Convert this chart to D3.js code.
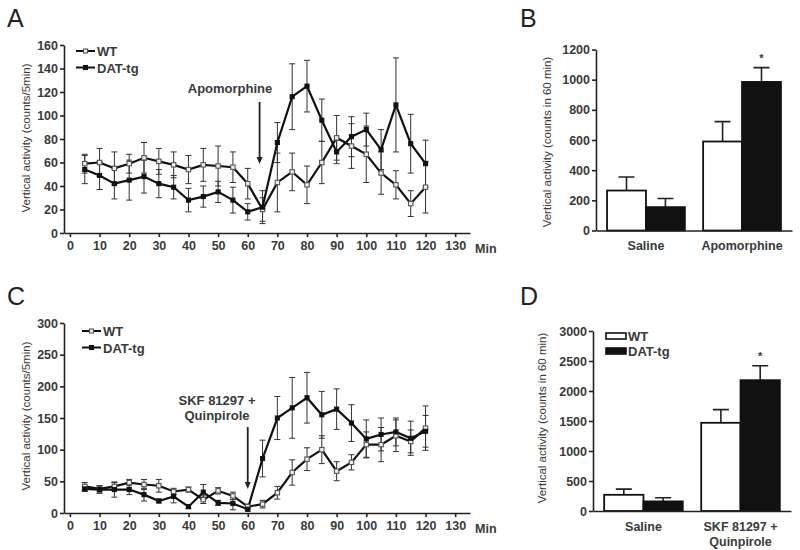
<!DOCTYPE html>
<html>
<head>
<meta charset="utf-8" />
<title>Vertical activity</title>
<script src="https://d3js.org/d3.v7.min.js"></script>
<style>
  body { margin: 0; background: #fff; }
  text { font-family: "Liberation Sans", Arial, sans-serif; }
  .tick text { font-size: 12.5px; font-weight: bold; fill: #3a3a3a; }
  .domain, .tick line { stroke: #222; stroke-width: 1.6px; }
</style>
</head>
<body>
<script>
// time course, minutes
var minutes = [5,10,15,20,25,30,35,40,45,50,55,60,65,70,75,80,85,90,95,100,105,110,115,120];
var xTicks = [0,10,20,30,40,50,60,70,80,90,100,110,120,130];

// panel A: apomorphine
var aWT     = [59,60,55,59,64,61,58,54,58,57,56,42,20,43,52,41,60,81,74,67,51,41,25,39];
var aWTErr  = [8,12,14,8,13,11,11,12,14,17,13,13,10,25,16,16,18,19,19,24,18,12,11,22];
var aDAT    = [54,49,42,45,48,42,39,28,31,35,28,18,22,77,116,125,96,69,82,88,71,109,76,59];
var aDATErr = [12,12,13,17,14,12,10,10,9,9,11,7,14,17,28,22,18,10,17,14,17,40,25,20];

// panel C: SKF 81297 + quinpirole
var cWT     = [42,38,42,48,45,43,34,37,21,35,27,10,14,32,64,85,100,66,80,108,108,122,113,134];
var cWTErr  = [6,5,6,5,8,10,5,4,6,5,6,4,6,10,20,18,22,15,12,20,27,25,18,35];
var cDAT    = [38,37,37,37,29,19,26,10,33,16,15,6,86,150,166,182,155,164,142,117,124,128,118,129];
var cDATErr = [4,6,12,8,10,3,10,3,12,4,10,3,29,34,48,40,37,32,29,30,26,22,27,25];

// panel B and D: counts in 60 min
var bCats    = ["Saline", "Apomorphine"];
var bWT      = [265, 590];
var bWTErr   = [90, 132];
var bDAT     = [155, 985];
var bDATErr  = [57, 95];

var dCats    = ["Saline", "SKF 81297 +|Quinpirole"];
var dWT      = [270, 1470];
var dWTErr   = [95, 220];
var dDAT     = [160, 2180];
var dDATErr  = [60, 240];

var svg = d3.select("body").append("svg")
    .attr("width", 800)
    .attr("height", 550);

function letter(x, y, t) {
  svg.append("text").attr("x", x).attr("y", y)
    .attr("font-size", 25).attr("fill", "#222").text(t);
}

function yTitle(x, y, t) {
  svg.append("text")
    .attr("transform", "translate(" + x + "," + y + ") rotate(-90)")
    .attr("text-anchor", "middle")
    .attr("font-size", 11.5)
    .attr("fill", "#3a3a3a")
    .text(t);
}

function arrow(x, y1, y2) {
  svg.append("line").attr("x1", x).attr("x2", x).attr("y1", y1).attr("y2", y2 - 5)
    .attr("stroke", "#222").attr("stroke-width", 1.8);
  svg.append("path")
    .attr("d", "M" + (x - 3) + "," + (y2 - 7) + "L" + (x + 3) + "," + (y2 - 7) + "L" + x + "," + y2 + "Z")
    .attr("fill", "#222");
}

function timeCourse(o) {
  var x = d3.scaleLinear().domain([-2, 135]).range([64, 470]);
  var y = d3.scaleLinear().domain([0, o.max]).range([o.bottom, o.top]);

  var g = svg.append("g");
  g.append("g").attr("transform", "translate(0," + o.bottom + ")")
    .call(d3.axisBottom(x).tickValues(xTicks).tickSize(4).tickPadding(4).tickSizeOuter(0));
  g.append("g").attr("transform", "translate(64,0)")
    .call(d3.axisLeft(y).ticks(o.max / o.step).tickFormat(d3.format("d")).tickSize(4).tickPadding(2).tickSizeOuter(0));

  g.append("text").attr("x", 475).attr("y", o.bottom + 20)
    .attr("font-size", 12.5).attr("font-weight", "bold").attr("fill", "#3a3a3a").text("Min");

  var series = [
    { v: o.wt, e: o.wtErr, open: true },
    { v: o.dat, e: o.datErr, open: false }
  ];

  series.forEach(function(s) {
    var pts = minutes.map(function(m, i) { return { m: m, v: s.v[i], e: s.e[i] }; });
    var eb = g.append("g").selectAll("g").data(pts).enter().append("g")
      .attr("stroke", "#333").attr("stroke-width", 1);
    eb.append("line")
      .attr("x1", function(d) { return x(d.m); }).attr("x2", function(d) { return x(d.m); })
      .attr("y1", function(d) { return y(d.v - d.e); }).attr("y2", function(d) { return y(d.v + d.e); });
    eb.append("line")
      .attr("x1", function(d) { return x(d.m) - 3; }).attr("x2", function(d) { return x(d.m) + 3; })
      .attr("y1", function(d) { return y(d.v + d.e); }).attr("y2", function(d) { return y(d.v + d.e); });
    eb.append("line")
      .attr("x1", function(d) { return x(d.m) - 3; }).attr("x2", function(d) { return x(d.m) + 3; })
      .attr("y1", function(d) { return y(d.v - d.e); }).attr("y2", function(d) { return y(d.v - d.e); });
    s.pts = pts;
  });

  var line = d3.line().x(function(d) { return x(d.m); }).y(function(d) { return y(d.v); });

  series.forEach(function(s) {
    g.append("path").datum(s.pts)
      .attr("fill", "none").attr("stroke", "#111").attr("stroke-width", 2.2)
      .attr("d", line);
  });

  series.forEach(function(s) {
    var r = s.open ? 2.2 : 2;
    g.append("g").selectAll("rect").data(s.pts).enter().append("rect")
      .attr("x", function(d) { return x(d.m) - r; })
      .attr("y", function(d) { return y(d.v) - r; })
      .attr("width", 2 * r).attr("height", 2 * r)
      .attr("fill", s.open ? "#eee" : "#111")
      .attr("stroke", s.open ? "#555" : "#111")
      .attr("stroke-width", 1.1);
  });

  // legend
  var lg = g.append("g");
  [["WT", true], ["DAT-tg", false]].forEach(function(l, i) {
    var ly = o.legY + i * 16.5;
    lg.append("line").attr("x1", o.legX).attr("x2", o.legX + 19).attr("y1", ly).attr("y2", ly)
      .attr("stroke", "#111").attr("stroke-width", 2);
    lg.append("rect").attr("x", o.legX + 7.5).attr("y", ly - 2).attr("width", 4).attr("height", 4)
      .attr("fill", l[1] ? "#eee" : "#111").attr("stroke", l[1] ? "#555" : "#111").attr("stroke-width", 1.1);
    lg.append("text").attr("x", o.legX + 21).attr("y", ly + 5)
      .attr("font-size", 13).attr("font-weight", "bold").attr("fill", "#3a3a3a").text(l[0]);
  });

  arrow(x(o.arrowAt), o.arrowTop, o.arrowBottom);
  o.label.forEach(function(t, i) {
    g.append("text").attr("x", o.labelX).attr("y", o.labelY + i * 15)
      .attr("text-anchor", "middle").attr("font-size", 13).attr("font-weight", "bold")
      .attr("fill", "#3a3a3a").text(t);
  });
}

function barPanel(o) {
  var x = d3.scaleBand().domain(o.cats).range([o.left, o.right]).paddingInner(0.19).paddingOuter(0.115);
  var sub = d3.scaleBand().domain(["WT", "DAT"]).range([0, x.bandwidth()]);
  var y = d3.scaleLinear().domain([0, o.max]).range([o.bottom, o.top]);

  var g = svg.append("g");

  var rows = [];
  o.cats.forEach(function(c, i) {
    rows.push({ c: c, k: "WT", v: o.wt[i], e: o.wtErr[i] });
    rows.push({ c: c, k: "DAT", v: o.dat[i], e: o.datErr[i] });
  });

  g.selectAll(".err").data(rows).enter().append("path")
    .attr("fill", "none").attr("stroke", "#222").attr("stroke-width", 1.6)
    .attr("d", function(d) {
      var cx = x(d.c) + sub(d.k) + sub.bandwidth() / 2;
      return "M" + cx + "," + y(d.v) + "V" + y(d.v + d.e) + "M" + (cx - 8) + "," + y(d.v + d.e) + "H" + (cx + 8);
    });

  g.selectAll(".bar").data(rows).enter().append("rect")
    .attr("x", function(d) { return x(d.c) + sub(d.k); })
    .attr("y", function(d) { return y(d.v); })
    .attr("width", sub.bandwidth())
    .attr("height", function(d) { return o.bottom - y(d.v); })
    .attr("fill", function(d) { return d.k == "WT" ? "#fff" : "#111"; })
    .attr("stroke", "#111").attr("stroke-width", 1.8);

  g.append("g").attr("transform", "translate(" + o.left + ",0)")
    .call(d3.axisLeft(y).ticks(o.max / o.step).tickFormat(d3.format("d")).tickSize(4).tickPadding(2).tickSizeOuter(0));
  g.append("g").attr("transform", "translate(0," + o.bottom + ")")
    .call(d3.axisBottom(x).tickSize(0).tickPadding(11).tickSizeOuter(0));

  // split two-line category labels
  g.selectAll(".tick text").filter(function(d) { return typeof d == "string"; })
    .each(function(d) {
      var parts = d.split("|");
      var t = d3.select(this).text(null);
      parts.forEach(function(p, i) {
        t.append("tspan").attr("x", 0).attr("dy", i == 0 ? "0.71em" : "1.2em").text(p);
      });
    });

  // significance star on DAT-tg drug bar
  var last = rows[3];
  g.append("text")
    .attr("x", x(last.c) + sub("DAT") + sub.bandwidth() / 2)
    .attr("y", y(last.v + last.e) - 6)
    .attr("text-anchor", "middle").attr("font-size", 11).attr("font-weight", "bold")
    .attr("fill", "#333").text("*");

  if (o.legend) {
    [["WT", "#fff"], ["DAT-tg", "#111"]].forEach(function(l, i) {
      var ly = o.top + 2 + i * 15;
      g.append("rect").attr("x", o.left + 13).attr("y", ly).attr("width", 20).attr("height", 6)
        .attr("fill", l[1]).attr("stroke", "#111").attr("stroke-width", 1.6);
      g.append("text").attr("x", o.left + 35).attr("y", ly + 8)
        .attr("font-size", 13).attr("font-weight", "bold").attr("fill", "#3a3a3a").text(l[0]);
    });
  }
}

letter(7, 27, "A");
letter(520, 27, "B");
letter(7, 305, "C");
letter(520, 305, "D");

timeCourse({
  wt: aWT, wtErr: aWTErr, dat: aDAT, datErr: aDATErr,
  max: 160, step: 20, top: 45, bottom: 233,
  legX: 76, legY: 51,
  arrowAt: 64, arrowTop: 102, arrowBottom: 164,
  label: ["Apomorphine"], labelX: 230, labelY: 93
});
yTitle(30, 138, "Vertical activity (counts/5min)");

timeCourse({
  wt: cWT, wtErr: cWTErr, dat: cDAT, datErr: cDATErr,
  max: 300, step: 50, top: 323, bottom: 513,
  legX: 82, legY: 331,
  arrowAt: 60, arrowTop: 427, arrowBottom: 489,
  label: ["SKF 81297 +", "Quinpirole"], labelX: 217, labelY: 405
});
yTitle(30, 416, "Vertical activity (counts/5min)");

barPanel({
  cats: bCats, wt: bWT, wtErr: bWTErr, dat: bDAT, datErr: bDATErr,
  max: 1200, step: 200, top: 49.5, bottom: 230.5, left: 596, right: 792, legend: false
});
yTitle(551, 142, "Vertical activity (counts in 60 min)");

barPanel({
  cats: dCats, wt: dWT, wtErr: dWTErr, dat: dDAT, datErr: dDATErr,
  max: 3000, step: 500, top: 331, bottom: 511, left: 593, right: 791, legend: true
});
yTitle(546, 418, "Vertical activity (counts in 60 min)");
</script>
</body>
</html>
